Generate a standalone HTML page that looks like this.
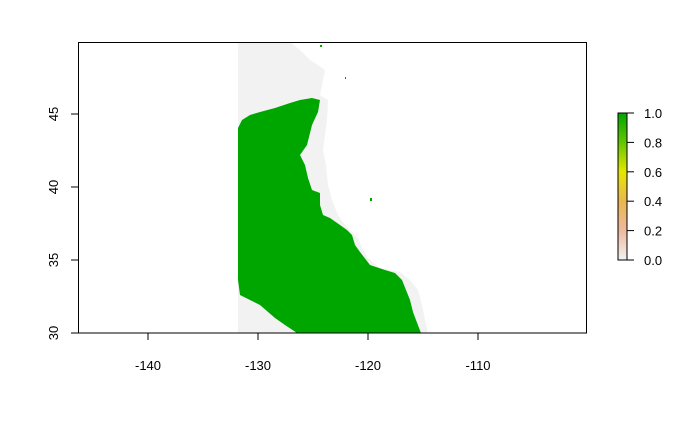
<!DOCTYPE html>
<html><head><meta charset="utf-8"><style>
body{margin:0;background:#fff}
svg text{font-family:"Liberation Sans",Arial,sans-serif;font-size:13px;fill:#000}
</style></head><body>
<svg id="c" width="700" height="432">
<defs><linearGradient id="g" x1="0" y1="1" x2="0" y2="0">
<stop offset="0" stop-color="#F2F2F2"/><stop offset="0.2" stop-color="#EEB99F"/><stop offset="0.4" stop-color="#EAB64E"/><stop offset="0.6" stop-color="#E6E600"/><stop offset="0.8" stop-color="#63C600"/><stop offset="1" stop-color="#00A600"/></linearGradient></defs>
<g>
<polygon fill="#F2F2F2" points="238,42 290,42 300,50 310,60 318,65 325,70 323,80 320,95 328,100 327,120 325,135 323,150 326,165 328,185 332,200 338,215 345,225 352,232 358,238 362,248 368,258 380,268 400,272 410,280 418,290 422,305 425,320 428,333 238,333"/>
<polygon fill="#00A600" points="238,128 242,120 250,115 260,112 275,108 290,103 300,100 312,98 320,100 318,112 312,125 307,145 300,155 305,165 308,178 312,190 320,193 320,205 323,215 330,218 340,225 347,230 352,235 355,245 360,252 370,265 385,270 395,273 402,280 406,290 410,300 413,312 416,320 421,333 297,333 285,325 275,318 260,305 250,300 240,295 238,280"/>
<rect x="320" y="45" width="2" height="2" fill="#00A600"/>
<rect x="370" y="198" width="2" height="3" fill="#00A600"/>
<rect x="345" y="77" width="1" height="2" fill="#00A600"/>
</g>
<rect x="78.5" y="42.5" width="508" height="290.5" fill="none" stroke="#000"/>
<g id="ax"></g>
<rect x="618" y="113" width="9" height="147" fill="url(#g)" stroke="#000" stroke-width="1"/>
</svg>
<script>
const xTicks=[-140,-130,-120,-110];
const yTicks=[30,35,40,45];
const legendTicks=[0,0.2,0.4,0.6,0.8,1.0];
const xs=v=>258+(v+130)*11;
const ys=v=>333-(v-30)*14.6;
const ls=v=>260-v*147;
const g=document.getElementById('ax');
const NS='http://www.w3.org/2000/svg';
function mk(t,a){const e=document.createElementNS(NS,t);for(const k in a)e.setAttribute(k,a[k]);g.appendChild(e);return e;}
xTicks.forEach(v=>{const x=xs(v);
const l=mk('line',{x1:x,x2:x,y1:333,y2:340,stroke:'#000'});


const t=mk('text',{x:x,y:370,'text-anchor':'middle'});t.textContent=v;

});
yTicks.forEach(v=>{const y=ys(v);
const l=mk('line',{x1:71,x2:78,y1:y,y2:y,stroke:'#000'});


const t=mk('text',{x:0,y:0,'text-anchor':'middle',transform:`translate(58,${y}) rotate(-90)`});t.textContent=v;

});
legendTicks.forEach(v=>{const y=ls(v);
const l=mk('line',{x1:627,x2:634,y1:y,y2:y,stroke:'#000'});


const t=mk('text',{x:644,y:y+5});t.textContent=v.toFixed(1);

});
</script>
</body></html>
